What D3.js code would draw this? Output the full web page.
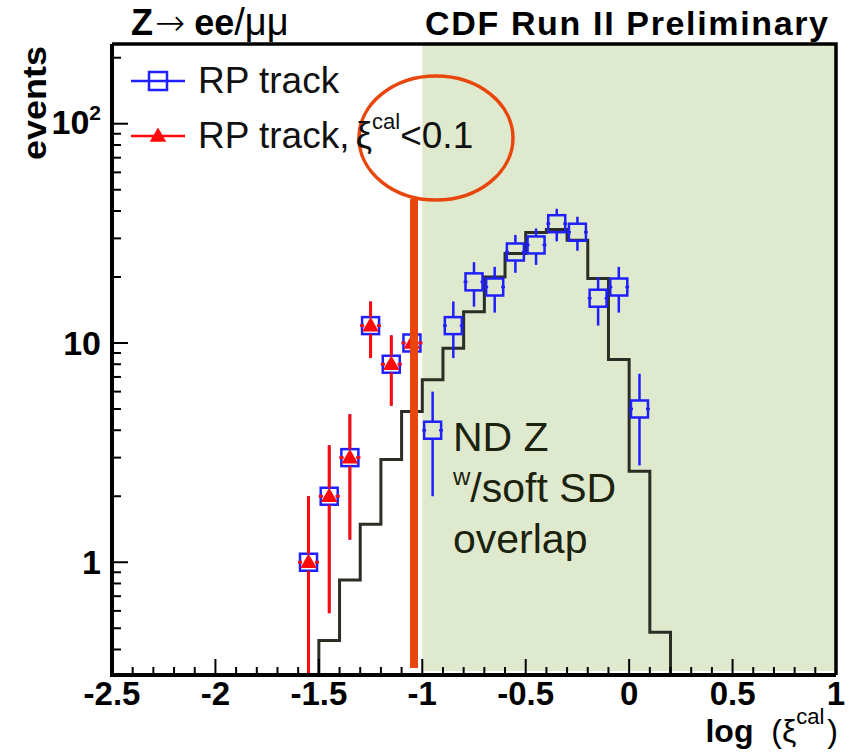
<!DOCTYPE html>
<html>
<head>
<meta charset="utf-8">
<script src="https://cdn.jsdelivr.net/npm/d3@7"></script>
<style>
  body { margin: 0; background: #fff; }
  svg { display: block; font-family: "Liberation Sans", Arial, Helvetica, sans-serif; }
</style>
</head>
<body>
<svg id="chart" width="853" height="752"></svg>
<script>
// bin centres of the data histograms, log10(xi_cal)
var binCenters = [-1.55, -1.45, -1.35, -1.25, -1.15, -1.05, -0.95, -0.85, -0.75,
  -0.65, -0.55, -0.45, -0.35, -0.25, -0.15, -0.05, 0.05];
// RP track events
var rpTrack = [1, 2, 3, 12, 8, 10, 4, 12, 19, 18, 26, 28, 35, 32, 16, 18, 5];
// RP track events with xi_cal < 0.1 (first six bins)
var rpTrackXiCut = [1, 2, 3, 12, 8, 10];
// MC histogram (ND Z), low bin edges and contents
var mcLowEdges = [-1.5, -1.4, -1.3, -1.2, -1.1, -1.0, -0.9, -0.8, -0.7, -0.6,
  -0.5, -0.4, -0.3, -0.2, -0.1, 0.0, 0.1];
var mcValues = [0.44, 0.83, 1.49, 2.94, 4.87, 6.8, 9.46, 13.9, 20, 25.6,
  31.9, 32.9, 29.4, 19.7, 8.4, 2.6, 0.48];
var mcBinWidth = 0.1;
var xTickValues = [-2.5, -2, -1.5, -1, -0.5, 0, 0.5, 1];
var xTickLabels = ["-2.5", "-2", "-1.5", "-1", "-0.5", "0", "0.5", "1"];
var yTickValues = [1, 10, 100];
var ndRegionStart = -1.0;
var cutLine = -1.04;

var svg = d3.select("#chart"),
  margin = { top: 44, right: 17, bottom: 77, left: 112 },
  width = 853,
  height = 752,
  x = d3.scaleLinear().domain([-2.5, 1]).range([margin.left, width - margin.right]),
  y = d3.scaleLog().domain([0.306, 231]).range([height - margin.bottom, margin.top]),
  plotBottom = height - margin.bottom,
  plotRight = width - margin.right,
  green = "#dfe9cd",
  blue = "#1f1fff",
  red = "#ff0a0a",
  annot = "#e8460c",
  half = 8.5,
  yClamp = function(v) {
    return v <= y.domain()[0] ? plotBottom : y(v);
  };

svg.append("defs").append("clipPath")
  .attr("id", "plotclip")
  .append("rect")
  .attr("x", margin.left)
  .attr("y", margin.top)
  .attr("width", plotRight - margin.left)
  .attr("height", plotBottom - margin.top);

// shaded ND region
svg.append("rect")
  .attr("x", x(ndRegionStart))
  .attr("y", margin.top)
  .attr("width", plotRight - x(ndRegionStart))
  .attr("height", plotBottom - margin.top - 4)
  .attr("fill", green);

var plot = svg.append("g").attr("clip-path", "url(#plotclip)");

// MC step histogram
var steps = [[mcLowEdges[0], 0.01]];
mcLowEdges.forEach(function(e, i) {
  steps.push([e, mcValues[i]]);
  steps.push([e + mcBinWidth, mcValues[i]]);
});
steps.push([mcLowEdges[mcLowEdges.length - 1] + mcBinWidth, 0.01]);

plot.append("path")
  .datum(steps)
  .attr("fill", "none")
  .attr("stroke", "#2a2e25")
  .attr("stroke-width", 3)
  .attr("d", d3.line()
    .x(function(d) { return x(d[0]); })
    .y(function(d) { return yClamp(d[1]); }));

var drawErrors = function(g, values, color, sw) {
  var pts = values.map(function(v, i) {
    return { xc: binCenters[i], v: v, e: Math.sqrt(v) };
  });
  var grp = g.append("g").attr("stroke", color).attr("stroke-width", sw);
  pts.forEach(function(p) {
    var cx = x(p.xc), cy = y(p.v),
      xl = x(p.xc - 0.05), xr = x(p.xc + 0.05);
    grp.append("line").attr("x1", cx).attr("x2", cx)
      .attr("y1", y(p.v + p.e)).attr("y2", cy - half);
    grp.append("line").attr("x1", cx).attr("x2", cx)
      .attr("y1", cy + half).attr("y2", yClamp(p.v - p.e));
    grp.append("line").attr("x1", xl).attr("x2", cx - half + 2)
      .attr("y1", cy).attr("y2", cy);
    grp.append("line").attr("x1", cx + half - 2).attr("x2", xr)
      .attr("y1", cy).attr("y2", cy);
  });
  return pts;
};

// RP track: open blue squares
var bluePts = drawErrors(plot, rpTrack, blue, 2.5);
plot.append("g").selectAll("rect")
  .data(bluePts)
  .join("rect")
  .attr("x", function(d) { return x(d.xc) - half; })
  .attr("y", function(d) { return y(d.v) - half; })
  .attr("width", half * 2)
  .attr("height", half * 2)
  .attr("fill", "none")
  .attr("stroke", blue)
  .attr("stroke-width", 2.5);

// RP track with xi cut: red triangles
var redPts = drawErrors(plot, rpTrackXiCut, red, 3);
var tri = d3.symbol().type(d3.symbolTriangle).size(120);
plot.append("g").selectAll("path")
  .data(redPts)
  .join("path")
  .attr("transform", function(d) { return "translate(" + x(d.xc) + "," + (y(d.v) + 1) + ")"; })
  .attr("d", tri)
  .attr("fill", red);

// annotation: cut line and ellipse
svg.append("line")
  .attr("x1", x(cutLine)).attr("x2", x(cutLine))
  .attr("y1", 199).attr("y2", plotBottom - 7)
  .attr("stroke", annot)
  .attr("stroke-width", 8);

svg.append("ellipse")
  .attr("cx", 436).attr("cy", 138)
  .attr("rx", 77).attr("ry", 62)
  .attr("fill", "none")
  .attr("stroke", annot)
  .attr("stroke-width", 3.5);

// axes
var axes = svg.append("g").attr("stroke", "#000");

var minorX = d3.range(-25, 11).map(function(i) { return i / 10; });
axes.selectAll(".xt").data(minorX).join("line")
  .attr("class", "xt")
  .attr("x1", function(d) { return x(d); })
  .attr("x2", function(d) { return x(d); })
  .attr("y1", plotBottom)
  .attr("y2", function(d) { return plotBottom - (Math.abs(d * 2 - Math.round(d * 2)) < 1e-6 ? 16 : 8); })
  .attr("stroke-width", 2);

var minorY = [];
[0.1, 1, 10, 100].forEach(function(dec) {
  d3.range(1, 10).forEach(function(m) {
    var v = dec * m;
    if (v >= y.domain()[0] && v <= y.domain()[1]) minorY.push(v);
  });
});
axes.selectAll(".yt").data(minorY).join("line")
  .attr("class", "yt")
  .attr("x1", margin.left)
  .attr("x2", function(d) { return margin.left + (yTickValues.indexOf(d) >= 0 ? 16 : 9); })
  .attr("y1", function(d) { return y(d); })
  .attr("y2", function(d) { return y(d); })
  .attr("stroke-width", 2);

axes.append("path")
  .attr("d", "M" + margin.left + "," + margin.top + "V" + plotBottom + "H" + plotRight)
  .attr("fill", "none")
  .attr("stroke-width", 4);
axes.append("path")
  .attr("d", "M" + margin.left + "," + margin.top + "H" + plotRight + "V" + plotBottom)
  .attr("fill", "none")
  .attr("stroke-width", 3.5);

// tick labels
svg.append("g").selectAll("text")
  .data(xTickValues)
  .join("text")
  .attr("x", function(d) { return x(d); })
  .attr("y", 705)
  .attr("text-anchor", "middle")
  .attr("font-weight", "bold")
  .attr("font-size", 33)
  .text(function(d, i) { return xTickLabels[i]; });

var yl = svg.append("g").attr("font-weight", "bold").attr("font-size", 34).attr("text-anchor", "end");
yl.append("text").attr("x", 101).attr("y", y(1) + 12).text("1");
yl.append("text").attr("x", 101).attr("y", y(10) + 12).text("10");
var y100 = yl.append("text").attr("x", 101).attr("y", y(100) + 10);
y100.append("tspan").text("10");
y100.append("tspan").attr("font-size", 21).attr("dy", -14).text("2");

// axis titles
svg.append("text")
  .attr("transform", "translate(46,46) rotate(-90)")
  .attr("text-anchor", "end")
  .attr("font-weight", "bold")
  .attr("font-size", 34)
  .attr("textLength", 114)
  .attr("lengthAdjust", "spacingAndGlyphs")
  .text("events");

var xt = svg.append("text")
  .attr("x", 838).attr("y", 742)
  .attr("text-anchor", "end")
  .attr("font-size", 32);
xt.append("tspan").attr("font-weight", "bold").text("log");
xt.append("tspan").attr("font-weight", 300).text("\u00a0\u00a0(\u03be");
xt.append("tspan").attr("font-size", 22).attr("dy", -18).text("cal");
xt.append("tspan").attr("dy", 18).attr("dx", 3).text(")");

// titles
var t1 = svg.append("text").attr("x", 131).attr("y", 35).attr("font-size", 36);
t1.append("tspan").attr("font-weight", "bold").text("Z");
t1.append("tspan").attr("font-family", "DejaVu Sans").attr("font-weight", 300).attr("dx", 2).text("\u2192");
t1.append("tspan").attr("font-weight", "bold").attr("dx", 9).text("ee");
t1.append("tspan").attr("font-size", 38).text("/\u03bc\u03bc");

svg.append("text")
  .attr("x", 425).attr("y", 35)
  .attr("font-weight", "bold")
  .attr("font-size", 34)
  .attr("textLength", 403)
  .attr("lengthAdjust", "spacing")
  .text("CDF Run II Preliminary");

// legend
var leg = svg.append("g");
leg.append("line").attr("x1", 131).attr("x2", 185).attr("y1", 81).attr("y2", 81)
  .attr("stroke", blue).attr("stroke-width", 2.5);
leg.append("rect").attr("x", 158 - 9).attr("y", 81 - 9).attr("width", 18).attr("height", 18)
  .attr("fill", "none").attr("stroke", blue).attr("stroke-width", 2.5);
leg.append("text").attr("x", 198).attr("y", 93).attr("font-size", 37).attr("fill", "#111").text("RP track");

leg.append("line").attr("x1", 131).attr("x2", 185).attr("y1", 136).attr("y2", 136)
  .attr("stroke", red).attr("stroke-width", 2.5);
leg.append("path").attr("transform", "translate(158,137)").attr("d", tri).attr("fill", red);
var l2 = leg.append("text").attr("x", 198).attr("y", 148).attr("font-size", 37).attr("fill", "#111");
l2.append("tspan").text("RP track,");
l2.append("tspan").attr("dx", 6).attr("font-weight", 300).text("\u03be");
l2.append("tspan").attr("font-size", 22).attr("dy", -19).text("cal");
l2.append("tspan").attr("dy", 19).text("<0.1");

// ND Z annotation
var nd = svg.append("g").attr("fill", "#1b230f").attr("font-size", 41);
nd.append("text").attr("x", 453).attr("y", 451).text("ND Z");
var nd2 = nd.append("text").attr("x", 453).attr("y", 502);
nd2.append("tspan").attr("font-size", 24).attr("dy", -17).text("w");
nd2.append("tspan").attr("dy", 17).text("/soft SD");
nd.append("text").attr("x", 453).attr("y", 553).text("overlap");
</script>
</body>
</html>
